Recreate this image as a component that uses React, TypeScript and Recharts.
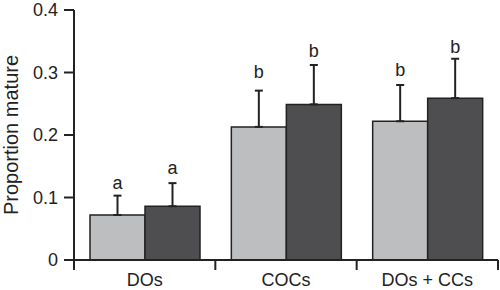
import React from "react";
import { BarChart, Bar, XAxis, YAxis, ErrorBar, LabelList, Label } from "recharts";

const categories = ["DOs", "COCs", "DOs + CCs"];
const lightMeans = [0.072, 0.213, 0.222];
const lightErr = [0.031, 0.058, 0.058];
const darkMeans = [0.086, 0.249, 0.259];
const darkErr = [0.037, 0.063, 0.063];
const lightLetters = ["a", "b", "b"];
const darkLetters = ["a", "b", "b"];
const lightLetterPos = [0.114, 0.291, 0.295];
const darkLetterPos = [0.137, 0.325, 0.332];
const yTicks = [0, 0.1, 0.2, 0.3, 0.4];

const data = categories.map((cat, i) => ({
  cat,
  light: lightMeans[i],
  lightE: [0, lightErr[i]],
  lightGap: lightLetterPos[i] - lightMeans[i],
  lightLetter: lightLetters[i],
  dark: darkMeans[i],
  darkE: [0, darkErr[i]],
  darkGap: darkLetterPos[i] - darkMeans[i],
  darkLetter: darkLetters[i],
}));

const INK = "#222222";
const FONT = "'Liberation Sans', Arial, Helvetica, sans-serif";

const CatTick = (props: any) => {
  const { x, y, payload, index, visibleTicksCount, width } = props;
  const half =
    payload && typeof payload.offset === "number" && payload.offset > 0
      ? payload.offset
      : width / visibleTicksCount / 2;
  const axisY = y - 13;
  return (
    <g>
      <line x1={x - half} x2={x - half} y1={axisY} y2={axisY + 10} stroke={INK} strokeWidth={2} />
      {index === visibleTicksCount - 1 && (
        <line x1={x + half} x2={x + half} y1={axisY} y2={axisY + 10} stroke={INK} strokeWidth={2} />
      )}
      <text x={x} y={y} dy="0.71em" textAnchor="middle" fill={INK} fontSize={18} fontFamily={FONT}>
        {payload.value}
      </text>
    </g>
  );
};

const YLabel = (props: any) => {
  const vb = props.viewBox || { x: 0, y: 10, width: 74, height: 250 };
  const cx = vb.x + 18;
  const cy = vb.y + vb.height / 2;
  return (
    <text
      x={cx}
      y={cy}
      transform={`rotate(-90, ${cx}, ${cy})`}
      textAnchor="middle"
      fill={INK}
      fontSize={20}
      fontFamily={FONT}
    >
      Proportion mature
    </text>
  );
};

export default function App() {
  return (
    <div style={{ position: "absolute", left: 0, top: 0, width: 500, height: 290, background: "#fff" }}>
      <BarChart
        width={500}
        height={290}
        data={data}
        margin={{ top: 10, right: 2, left: 0, bottom: 0 }}
        barCategoryGap={16}
        barGap={0}
        style={{ fontFamily: FONT }}
      >
        <XAxis
          dataKey="cat"
          height={30}
          tickLine={false}
          tickSize={10}
          tickMargin={3}
          interval={0}
          axisLine={{ stroke: INK, strokeWidth: 2 }}
          tick={<CatTick />}
        />
        <YAxis
          width={74}
          domain={[0, 0.4]}
          ticks={yTicks}
          interval={0}
          tickSize={10}
          tickMargin={6}
          tickFormatter={(v: number) => (v === 0 ? "0" : String(v))}
          tick={{ fill: INK, fontSize: 18, fontFamily: FONT }}
          axisLine={{ stroke: INK, strokeWidth: 2 }}
          tickLine={{ stroke: INK, strokeWidth: 2 }}
        >
          <Label content={<YLabel />} />
        </YAxis>
        <Bar dataKey="light" stackId="L" fill="#bdbec0" stroke={INK} strokeWidth={1.5} isAnimationActive={false}>
          <ErrorBar dataKey="lightE" width={4} stroke={INK} strokeWidth={2} direction="y" />
        </Bar>
        <Bar dataKey="lightGap" stackId="L" fill="transparent" stroke="none" isAnimationActive={false}>
          <LabelList dataKey="lightLetter" position="top" offset={0} fill={INK} fontSize={18} fontFamily={FONT} />
        </Bar>
        <Bar dataKey="dark" stackId="D" fill="#4e4e50" stroke={INK} strokeWidth={1.5} isAnimationActive={false}>
          <ErrorBar dataKey="darkE" width={4} stroke={INK} strokeWidth={2} direction="y" />
        </Bar>
        <Bar dataKey="darkGap" stackId="D" fill="transparent" stroke="none" isAnimationActive={false}>
          <LabelList dataKey="darkLetter" position="top" offset={0} fill={INK} fontSize={18} fontFamily={FONT} />
        </Bar>
      </BarChart>
    </div>
  );
}
